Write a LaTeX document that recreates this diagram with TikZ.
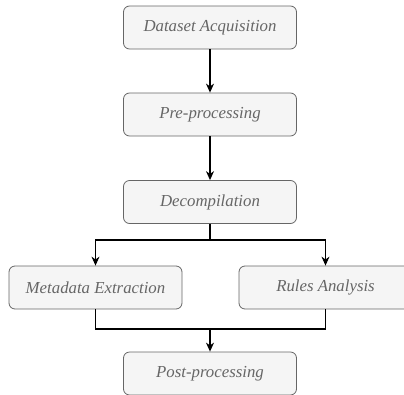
\documentclass[tikz,border=0pt]{standalone}
\usepackage{fontspec}
\setmainfont{Liberation Serif}
\usetikzlibrary{arrows.meta}
\definecolor{boxfill}{HTML}{F5F5F5}
\definecolor{boxline}{HTML}{666666}
\begin{document}
\begin{tikzpicture}[x=1pt,y=-1pt,
  stepbox/.style={draw=boxline,fill=boxfill,rounded corners=6pt,line width=0.8pt,
    minimum width=173pt,minimum height=43pt,inner sep=0pt,
    font=\fontsize{16.8}{20}\selectfont\itshape,text=boxline},
  flow/.style={line width=1.1pt,-{Stealth[length=9pt,width=8pt]}},
  link/.style={line width=1.1pt}]
\useasboundingbox (0,0) rectangle (404,394);
\node[stepbox] (acq) at (210,27.5) {Dataset Acquisition};
\node[stepbox] (pre) at (210,114.5) {Pre-processing};
\node[stepbox] (dec) at (210,202) {Decompilation};
\node[stepbox] (meta) at (95.5,287.5) {Metadata Extraction};
\node[stepbox] (rules) at (325.5,287.5) {Rules Analysis};
\node[stepbox] (post) at (210,373.5) {Post-processing};
\coordinate (split) at (210,240);
\coordinate (merge) at (210,329);
\draw[flow] (acq) -- (pre);
\draw[flow] (pre) -- (dec);
\draw[link] (dec) -- (split);
\draw[flow] (split) -| (meta);
\draw[flow] (split) -| (rules);
\draw[link] (meta) |- (merge);
\draw[link] (rules) |- (merge);
\draw[flow] (merge) -- (post);
\end{tikzpicture}
\end{document}
